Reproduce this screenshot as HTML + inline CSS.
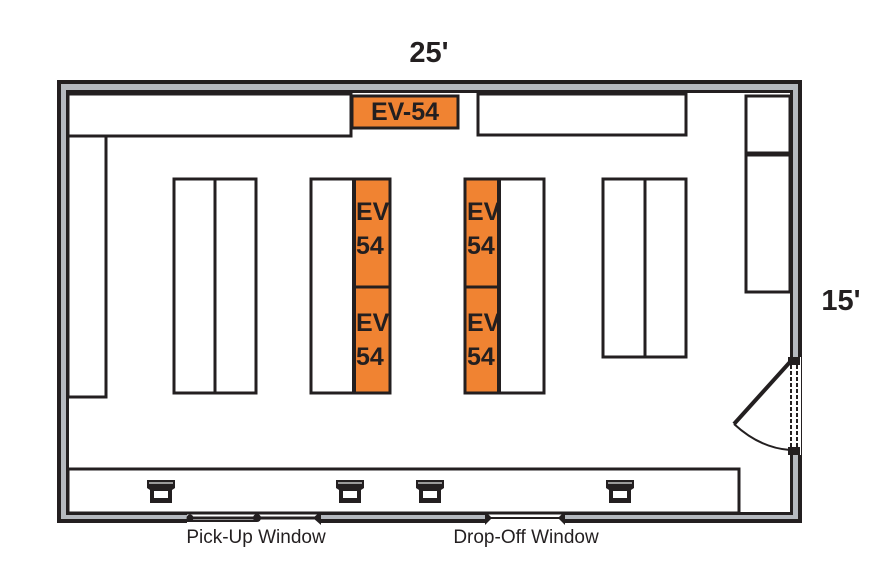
<!DOCTYPE html>
<html><head><style>body{margin:0;background:#fff}svg{display:block}text{font-family:"Liberation Sans",Arial,sans-serif}</style></head><body>
<svg width="892" height="566" viewBox="0 0 892 566" xmlns="http://www.w3.org/2000/svg">
<!-- outer wall -->
<rect x="57" y="80" width="745" height="443" fill="#231f20"/>
<rect x="61" y="84" width="737" height="435" fill="#b5b9bf"/>
<rect x="66" y="90" width="727" height="425" fill="#231f20"/>
<rect x="69" y="93" width="721" height="419" fill="#fff"/>
<!-- window openings bottom -->
<rect x="187" y="512" width="133" height="12" fill="#fff"/>
<line x1="187" y1="513" x2="257" y2="513" stroke="#231f20" stroke-width="2"/>
<line x1="187" y1="521" x2="257" y2="521" stroke="#231f20" stroke-width="2"/>
<line x1="190" y1="518" x2="320" y2="518" stroke="#231f20" stroke-width="3"/>
<circle cx="190" cy="518" r="3.5" fill="#231f20"/><circle cx="257" cy="518" r="4" fill="#231f20"/>
<polygon points="321,511 321,525 313,518" fill="#231f20"/>
<rect x="485" y="511" width="80" height="14" fill="#fff"/>
<line x1="485" y1="518" x2="565" y2="518" stroke="#231f20" stroke-width="2"/>
<polygon points="485,511 485,525 492,518" fill="#231f20"/>
<polygon points="565,511 565,525 558,518" fill="#231f20"/>
<!-- door opening right -->
<rect x="787" y="357" width="14" height="98" fill="#fff"/>
<rect x="788" y="357" width="12" height="8" fill="#231f20"/>
<rect x="788" y="447" width="12" height="8" fill="#231f20"/>
<line x1="791" y1="365" x2="791" y2="447" stroke="#231f20" stroke-width="2" stroke-dasharray="4,2"/>
<line x1="797" y1="365" x2="797" y2="447" stroke="#231f20" stroke-width="2" stroke-dasharray="4,2"/>
<line x1="790" y1="362" x2="734" y2="424" stroke="#231f20" stroke-width="4"/>
<path d="M734 424 Q760 448 790 450" fill="none" stroke="#231f20" stroke-width="2"/>
<!-- counters -->
<g fill="#fff" stroke="#231f20" stroke-width="3">
<rect x="68" y="94" width="283" height="42"/>
<rect x="68" y="136" width="38" height="261"/>
<rect x="478" y="94" width="208" height="41"/>
<rect x="746" y="96" width="44" height="58"/>
<rect x="746" y="154" width="44" height="138"/>
<rect x="68" y="469" width="671" height="44"/>
<rect x="174" y="179" width="82" height="214"/>
<rect x="311" y="179" width="79" height="214"/>
<rect x="465" y="179" width="79" height="214"/>
<rect x="603" y="179" width="83" height="178"/>
</g>
<line x1="746" y1="154" x2="790" y2="154" stroke="#231f20" stroke-width="5"/>
<g stroke="#231f20" stroke-width="3">
<line x1="215" y1="179" x2="215" y2="393"/>
<line x1="645" y1="179" x2="645" y2="357"/>
</g>
<!-- orange -->
<g fill="#f08332" stroke="#231f20" stroke-width="3">
<rect x="352" y="96" width="106" height="32"/>
<rect x="354" y="179" width="36" height="108"/>
<rect x="354" y="287" width="36" height="106"/>
<rect x="465" y="179" width="34" height="108"/>
<rect x="465" y="287" width="34" height="106"/>
</g>
<g stroke="#231f20" stroke-width="4">
<line x1="354" y1="179" x2="354" y2="393"/>
<line x1="499" y1="179" x2="499" y2="393"/>
</g>
<g fill="#231f20" font-weight="bold" font-size="25">
<text x="405" y="120" text-anchor="middle" font-size="25">EV-54</text>
<text x="356" y="220">EV</text><text x="356" y="254">54</text>
<text x="356" y="331">EV</text><text x="356" y="365">54</text>
<text x="467" y="220">EV</text><text x="467" y="254">54</text>
<text x="467" y="331">EV</text><text x="467" y="365">54</text>
<text x="429" y="62" text-anchor="middle" font-size="29">25'</text>
<text x="841" y="310" text-anchor="middle" font-size="29">15'</text>
</g>
<!-- chairs -->
<g id="c" fill="#231f20">
<path d="M147 480 h28 v8 l-3 2 v13 h-22 v-13 l-3 -2z"/>
<rect x="154" y="491" width="14" height="7" fill="#fff"/>
<rect x="149" y="482" width="24" height="2" fill="#999"/>
</g>
<use href="#c" x="189"/><use href="#c" x="269"/><use href="#c" x="459"/>
<g fill="#231f20" font-size="19">
<text x="256" y="543" text-anchor="middle">Pick-Up Window</text>
<text x="526" y="543" text-anchor="middle">Drop-Off Window</text>
</g>
</svg>
</body></html>
